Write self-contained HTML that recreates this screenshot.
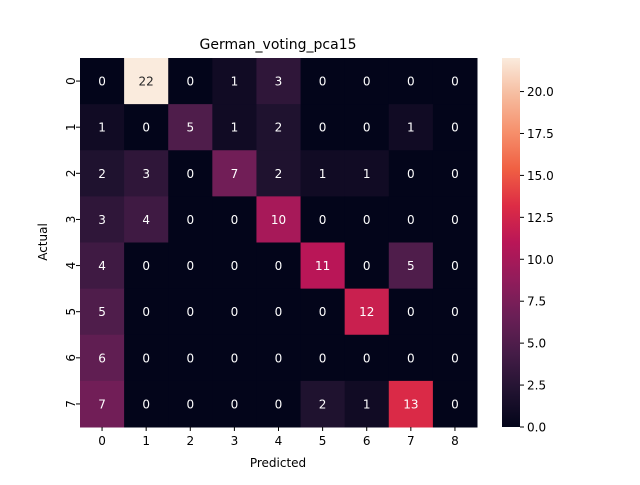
<!DOCTYPE html>
<html><head><meta charset="utf-8"><style>
body{margin:0;background:#fff;}
svg text{font-family:"DejaVu Sans","Liberation Sans",sans-serif;}
</style></head><body>
<svg id="chart" width="640" height="480" xmlns="http://www.w3.org/2000/svg">
<defs><linearGradient id="cb" x1="0" y1="1" x2="0" y2="0"></linearGradient></defs>
<text x="278" y="49" font-size="14" text-anchor="middle">German_voting_pca15</text>
<g id="cells"></g>
<g id="axes"></g>
<text x="278" y="467" font-size="12" text-anchor="middle">Predicted</text>
<text x="47" y="242" font-size="12" text-anchor="middle" transform="rotate(-90 47 242)">Actual</text>
<rect x="502" y="58" width="18" height="369" fill="url(#cb)"/>
<g id="cbticks"></g>
</svg>
<script>
const xLabels=["0","1","2","3","4","5","6","7","8"];
const yLabels=["0","1","2","3","4","5","6","7"];
const row0=[0,22,0,1,3,0,0,0,0];
const row1=[1,0,5,1,2,0,0,1,0];
const row2=[2,3,0,7,2,1,1,0,0];
const row3=[3,4,0,0,10,0,0,0,0];
const row4=[4,0,0,0,0,11,0,5,0];
const row5=[5,0,0,0,0,0,12,0,0];
const row6=[6,0,0,0,0,0,0,0,0];
const row7=[7,0,0,0,0,2,1,13,0];
const matrix=[row0,row1,row2,row3,row4,row5,row6,row7];
const cbTicks=[0,2.5,5,7.5,10,12.5,15,17.5,20];
const NS="http://www.w3.org/2000/svg";
const L=80,R=477,T=58,B=427;
const vmin=0,vmax=Math.max(...matrix.flat());
const cw=(R-L)/xLabels.length,ch=(B-T)/yLabels.length;
const xs=i=>L+i*cw, ys=j=>T+j*ch;
const cbY=v=>B-(v-vmin)/(vmax-vmin)*(B-T);
const stops=[[3,5,26],[34,19,49],[69,28,71],[106,31,86],[146,28,91],[185,22,87],[221,44,69],[240,96,67],[246,144,108],[246,188,159],[250,235,221]];
function col(v){let t=(v-vmin)/(vmax-vmin)*10;let i=Math.min(9,Math.floor(t));let f=t-i;let a=stops[i],b=stops[i+1];
return a.map((c,k)=>Math.round(c+(b[k]-c)*f));}
function mk(tag,attrs,parent){const e=document.createElementNS(NS,tag);for(const k in attrs)e.setAttribute(k,attrs[k]);parent.appendChild(e);return e;}
const cells=document.getElementById('cells'),axes=document.getElementById('axes');
matrix.forEach((row,j)=>row.forEach((v,i)=>{
 const c=col(v);
 const r=mk('rect',{x:xs(i),y:ys(j),width:cw+0.5,height:ch+0.5,fill:`rgb(${c})`},cells);
 
 
 const lum=(0.299*c[0]+0.587*c[1]+0.114*c[2])/255;
 const t=mk('text',{x:xs(i)+cw/2,y:ys(j)+ch/2+4.5,'font-size':12,'text-anchor':'middle',fill:lum>0.55?'#262626':'#fff'},cells);
 t.textContent=v;
 
 
}));
xLabels.forEach((l,i)=>{const x=xs(i)+cw/2;
 mk('line',{x1:x,x2:x,y1:B,y2:B+4,stroke:'#000'},axes);
 const t=mk('text',{x:x,y:B+18,'font-size':12,'text-anchor':'middle'},axes);t.textContent=l;
 
 });
yLabels.forEach((l,j)=>{const y=ys(j)+ch/2;
 mk('line',{x1:L-4,x2:L,y1:y,y2:y,stroke:'#000'},axes);
 const t=mk('text',{x:L-9,y:y,'font-size':12,'text-anchor':'middle',transform:`rotate(-90 ${L-9} ${y})`,dy:4},axes);t.textContent=l;
 
 });
const g=document.getElementById('cb');
stops.forEach((s,k)=>mk('stop',{offset:k/10,'stop-color':`rgb(${s})`},g));
const cbt=document.getElementById('cbticks');
cbTicks.forEach(v=>{const y=cbY(v);
 mk('line',{x1:520,x2:524,y1:y,y2:y,stroke:'#000'},cbt);
 const t=mk('text',{x:527,y:y+4.5,'font-size':12},cbt);t.textContent=v.toFixed(1);
 
 });
</script>
</body></html>
